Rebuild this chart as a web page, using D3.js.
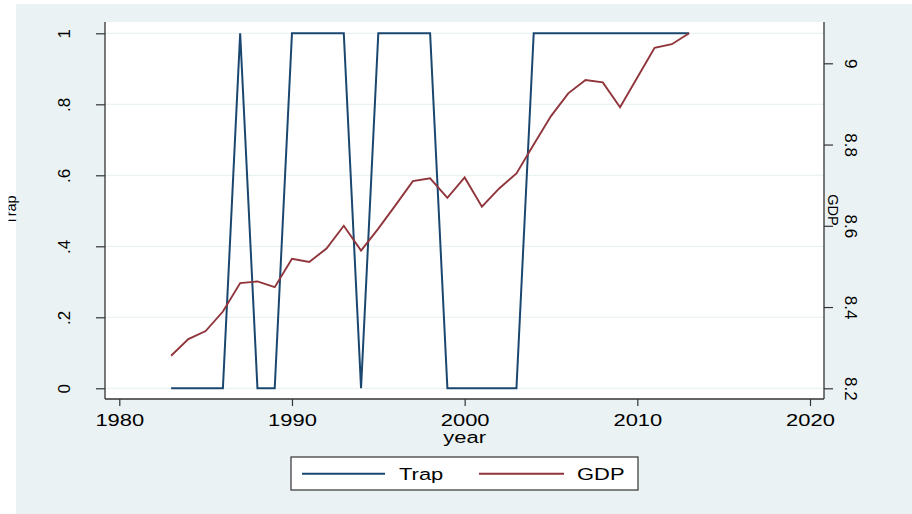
<!DOCTYPE html>
<html lang="en">
<head>
<meta charset="UTF-8">
<script src="https://d3js.org/d3.v7.min.js"></script>
<style>
  body { margin: 0; background: #fff; }
  svg { display: block; font-family: "Liberation Sans", Arial, sans-serif; }
  .tick text { fill: #000; }
</style>
</head>
<body>
<div id="chart"></div>
<script>
// data
const years = [1983, 1984, 1985, 1986, 1987, 1988, 1989, 1990, 1991, 1992,
               1993, 1994, 1995, 1996, 1997, 1998, 1999, 2000, 2001, 2002,
               2003, 2004, 2005, 2006, 2007, 2008, 2009, 2010, 2011, 2012, 2013];
const trap = [0, 0, 0, 0, 1, 0, 0, 1, 1, 1,
              1, 0, 1, 1, 1, 1, 0, 0, 0, 0,
              0, 1, 1, 1, 1, 1, 1, 1, 1, 1, 1];
const gdp = [8.280, 8.321, 8.341, 8.389, 8.459, 8.463, 8.449, 8.519, 8.511, 8.544,
             8.600, 8.539, 8.593, 8.651, 8.710, 8.717, 8.669, 8.719, 8.647, 8.692,
             8.729, 8.800, 8.870, 8.926, 8.959, 8.953, 8.892, 8.965, 9.038, 9.047, 9.074];
const xTicks = [1980, 1990, 2000, 2010, 2020];
const trapTicks = [0, 0.2, 0.4, 0.6, 0.8, 1];
const trapLabels = ["0", ".2", ".4", ".6", ".8", "1"];
const gdpTicks = [8.2, 8.4, 8.6, 8.8, 9];
const gdpLabels = ["8.2", "8.4", "8.6", "8.8", "9"];

const W = 912, H = 514;
const plot = { left: 105, right: 824, top: 22, bottom: 399 };
const navy = "#1a476f", maroon = "#90353b", bg = "#eaf2f3";
const sx = 1.33; // horizontal text is drawn wide in the original

const svg = d3.select("#chart").append("svg")
    .attr("width", W).attr("height", H);

// outer background + plot region
svg.append("rect").attr("x", 16).attr("y", 4).attr("width", W - 16).attr("height", H - 4).attr("fill", bg);
svg.append("rect").attr("x", plot.left).attr("y", plot.top)
    .attr("width", plot.right - plot.left).attr("height", plot.bottom - plot.top).attr("fill", "#fff");

const x = d3.scaleLinear().domain([1980, 2020]).range([119.3, 810]);
const yTrap = d3.scaleLinear().domain([0, 1]).range([388.3, 33.3]);
const yGdp = d3.scaleLinear().domain([8.2, 9]).range([388.3, 63.3]);

// grid lines
svg.append("g").selectAll("line").data(trapTicks).enter().append("line")
    .attr("x1", plot.left).attr("x2", plot.right)
    .attr("y1", d => yTrap(d)).attr("y2", d => yTrap(d))
    .attr("stroke", bg).attr("stroke-width", 1.3);

// left axis
const gl = svg.append("g").attr("transform", "translate(" + plot.left + ",0)")
    .call(d3.axisLeft(yTrap).tickValues(trapTicks).tickSize(9).tickSizeOuter(0)
        .tickFormat((d, i) => trapLabels[i]));
gl.select(".domain").remove();
gl.selectAll(".tick line").attr("stroke", "#333").attr("stroke-width", 1.2);
gl.selectAll(".tick text")
    .attr("x", null).attr("dy", null)
    .attr("text-anchor", "middle")
    .attr("font-size", 17)
    .attr("transform", "translate(-35.5,0) rotate(-90)");

// right axis
const gr = svg.append("g").attr("transform", "translate(" + plot.right + ",0)")
    .call(d3.axisRight(yGdp).tickValues(gdpTicks).tickSize(9).tickSizeOuter(0)
        .tickFormat((d, i) => gdpLabels[i]));
gr.select(".domain").remove();
gr.selectAll(".tick line").attr("stroke", "#333").attr("stroke-width", 1.2);
gr.selectAll(".tick text")
    .attr("x", null).attr("dy", null)
    .attr("text-anchor", "middle")
    .attr("font-size", 17)
    .attr("transform", "translate(21,0) rotate(90)");

// bottom axis
const gb = svg.append("g").attr("transform", "translate(0," + plot.bottom + ")")
    .call(d3.axisBottom(x).tickValues(xTicks).tickSize(7).tickSizeOuter(0)
        .tickFormat(d3.format("d")));
gb.select(".domain").remove();
gb.selectAll(".tick line").attr("stroke", "#333").attr("stroke-width", 1.2);
gb.selectAll(".tick text")
    .attr("y", null).attr("dy", null)
    .attr("font-size", 16.5)
    .attr("transform", "translate(0,27) scale(" + sx + ",1)");

// axis lines
const axisLines = [
    [plot.left, plot.top, plot.left, plot.bottom],
    [plot.right, plot.top, plot.right, plot.bottom],
    [plot.left, plot.bottom, plot.right, plot.bottom]
];
svg.append("g").selectAll("line").data(axisLines).enter().append("line")
    .attr("x1", d => d[0]).attr("y1", d => d[1]).attr("x2", d => d[2]).attr("y2", d => d[3])
    .attr("stroke", "#333").attr("stroke-width", 1.3);

// series
const trapLine = d3.line().x((d, i) => x(years[i])).y(d => yTrap(d));
const gdpLine = d3.line().x((d, i) => x(years[i])).y(d => yGdp(d));
svg.append("path").datum(trap).attr("d", trapLine)
    .attr("fill", "none").attr("stroke", navy).attr("stroke-width", 2);
svg.append("path").datum(gdp).attr("d", gdpLine)
    .attr("fill", "none").attr("stroke", maroon).attr("stroke-width", 1.9);

// axis titles (left one is cut off at the image edge in the original)
svg.append("defs").append("clipPath").attr("id", "leftclip")
    .append("rect").attr("x", 8.5).attr("y", 0).attr("width", 100).attr("height", H);
svg.append("g").attr("clip-path", "url(#leftclip)")
  .append("text")
    .attr("transform", "translate(16,210) rotate(-90)")
    .attr("text-anchor", "middle").attr("font-size", 14.5).text("Trap");
svg.append("text")
    .attr("transform", "translate(828,210) rotate(90)")
    .attr("text-anchor", "middle").attr("font-size", 14.5).text("GDP");
svg.append("text")
    .attr("transform", "translate(" + x(2000) + ",443) scale(" + sx + ",1)")
    .attr("text-anchor", "middle").attr("font-size", 16.5).text("year");

// legend
const legend = svg.append("g");
legend.append("rect").attr("x", 291).attr("y", 457).attr("width", 347).attr("height", 33)
    .attr("fill", "#fff").attr("stroke", "#333").attr("stroke-width", 1.2);
const legendItems = [
    { name: "Trap", color: navy, x0: 302, x1: 385, tx: 399 },
    { name: "GDP", color: maroon, x0: 479, x1: 564, tx: 577 }
];
legendItems.forEach(d => {
    legend.append("line").attr("x1", d.x0).attr("x2", d.x1).attr("y1", 473.7).attr("y2", 473.7)
        .attr("stroke", d.color).attr("stroke-width", 2);
    legend.append("text").attr("transform", "translate(" + d.tx + ",479.5) scale(" + sx + ",1)")
        .attr("font-size", 16.5).text(d.name);
});
</script>
</body>
</html>
